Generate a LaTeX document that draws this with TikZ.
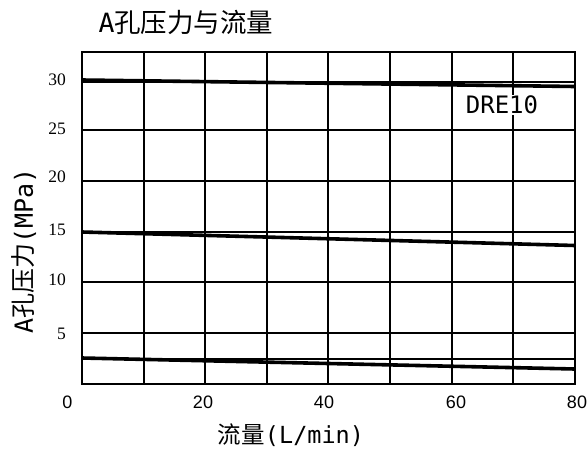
\documentclass[tikz,border=0pt]{standalone}
\usepackage{fontspec}
\setmainfont{Liberation Serif}
\newfontfamily\cjk{Noto Sans CJK SC}
\newfontfamily\mono{DejaVu Sans Mono}
\newfontfamily\sansf{Liberation Sans}
\begin{document}
\begin{tikzpicture}[x=1pt,y=-1pt,
  gridline/.style={line width=2.2pt},
  curveline/.style={line width=3.6pt},
  ylab/.style={anchor=east,inner sep=0pt,font=\fontsize{17.5}{19}\selectfont},
  xlab/.style={inner sep=0pt,font=\sansf\fontsize{18}{20}\selectfont},
  titlelab/.style={inner sep=0pt,font=\fontsize{26.5}{30}\selectfont}]
\useasboundingbox (0,0) rectangle (588,461);
% grid
\foreach \x in {144,205,267,328,390,452,513}
  \draw[gridline] (\x,52) -- (\x,384);
\foreach \y in {82,130,181,232,282,333,359}
  \draw[gridline] (82,\y) -- (575,\y);
\draw[gridline] (82,52) rectangle (575,384);
% curves
\coordinate (a0) at (82,80);   \coordinate (a1) at (575,86.5);
\coordinate (b0) at (82,232);  \coordinate (b1) at (575,245.5);
\coordinate (c0) at (82,358);  \coordinate (c1) at (575,369);
\draw[curveline] (a0) -- (a1);
\draw[curveline] (b0) -- (b1);
\draw[curveline] (c0) -- (c1);
% curve label
\node[fill=white,inner sep=0.5pt,font=\mono\fontsize{24}{26}\selectfont] (dre) at (502,105) {DRE10};
% y tick labels
\node[ylab] (y30) at (66,80) {30};
\node[ylab] (y25) at (66,129) {25};
\node[ylab] (y20) at (66,176.5) {20};
\node[ylab] (y15) at (66,230) {15};
\node[ylab] (y10) at (66,279.5) {10};
\node[ylab] (y5) at (66,334) {5};
% x tick labels
\node[xlab] (x0) at (67.5,402) {0};
\node[xlab] (x20) at (203,402) {20};
\node[xlab] (x40) at (324,402) {40};
\node[xlab] (x60) at (456,402) {60};
\node[xlab] (x80) at (577,402) {80};
% axis titles
\node[titlelab] (title) at (186,22) {{\mono A}{\cjk 孔压力与流量}};
\node[inner sep=0pt,font=\fontsize{23.5}{26}\selectfont] (xtitle) at (291,435) {{\cjk 流量}{\mono (L/min)}};
\node[inner sep=0pt,rotate=90,font=\fontsize{25}{28}\selectfont] (ytitle) at (24,251) {{\mono A}{\cjk 孔压力}{\mono (MPa)}};
\end{tikzpicture}
\end{document}
